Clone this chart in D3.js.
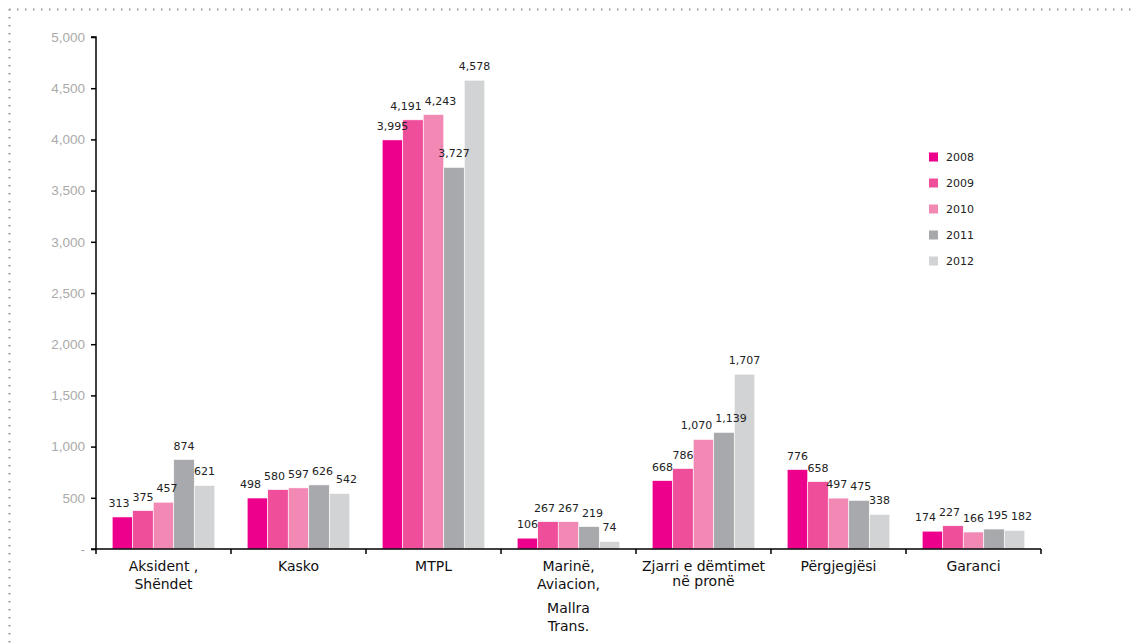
<!DOCTYPE html>
<html><head><meta charset="utf-8">
<script src="https://cdn.jsdelivr.net/npm/d3@7"></script>
<style>body{margin:0;background:#fff;}svg{display:block;}</style>
</head><body>
<svg id="chart" width="1131" height="644"></svg>
<script>
const categories = [["Aksident ,","Shëndet"],["Kasko"],["MTPL"],["Marinë,","Aviacion,","Mallra","Trans."],["Zjarri e dëmtimet","në pronë"],["Përgjegjësi"],["Garanci"]];
const years = ["2008","2009","2010","2011","2012"];
const v2008 = [313, 498, 3995, 106, 668, 776, 174];
const v2009 = [375, 580, 4191, 267, 786, 658, 227];
const v2010 = [457, 597, 4243, 267, 1070, 497, 166];
const v2011 = [874, 626, 3727, 219, 1139, 475, 195];
const v2012 = [621, 542, 4578, 74, 1707, 338, 182];
const yTicks = [0,500,1000,1500,2000,2500,3000,3500,4000,4500,5000];
const colors = ["#EC008C","#EF4E9B","#F289B5","#A7A9AC","#D1D3D4"];

(function(){
const series = [v2008,v2009,v2010,v2011,v2012];
const svg = d3.select("#chart");
const mLeft = 96, mRight = 1041, mTop = 37, mBottom = 549;

// dotted frame
svg.append("line").attr("x1",9).attr("x2",1131).attr("y1",9.5).attr("y2",9.5)
  .attr("stroke","#999").attr("stroke-width",2).attr("stroke-dasharray","1.5,6.5");
svg.append("line").attr("x1",9.5).attr("x2",9.5).attr("y1",9).attr("y2",644)
  .attr("stroke","#999").attr("stroke-width",2).attr("stroke-dasharray","1.5,6.5");

const x0 = d3.scaleBand().domain(d3.range(categories.length)).range([mLeft,mRight]).paddingInner(0).paddingOuter(0);
const x1 = d3.scaleBand().domain(years).range([0,x0.bandwidth()]).paddingOuter(0.79).paddingInner(0);
const y = d3.scaleLinear().domain([0,5000]).range([mBottom,mTop]);

const fmt = d3.format(",");
const gBars = svg.append("g");
const gLabs = svg.append("g");
categories.forEach((c,i)=>{
  const labs = [];
  years.forEach((yr,j)=>{
    const v = series[j][i];
    const bx = x0(i)+x1(yr);
    gBars.append("rect").attr("x",bx).attr("y",y(v)).attr("width",x1.bandwidth()).attr("height",mBottom-y(v))
      .attr("fill",colors[j]).attr("stroke","#fff").attr("stroke-width",0.6);
    const t = gLabs.append("text").attr("x",bx+x1.bandwidth()/2).attr("y",y(v)-10)
      .attr("text-anchor","middle").attr("font-family","DejaVu Sans").attr("font-size",11).attr("fill","#222")
      .text(fmt(v));
    labs.push({t, cx: bx+x1.bandwidth()/2, cy: y(v)-10, w: t.node().getComputedTextLength()});
  });
  // simple horizontal collision avoidance between neighbouring labels
  for (let it=0; it<30; it++) {
    for (let k=0; k<labs.length-1; k++) {
      const a = labs[k], b = labs[k+1];
      if (Math.abs(a.cy-b.cy) < 12) {
        const ov = (a.cx + a.w/2 + 3) - (b.cx - b.w/2);
        if (ov > 0) { a.cx -= ov/2; b.cx += ov/2; }
      }
    }
  }
  labs.forEach(l=>l.t.attr("x", l.cx));
});

// Y axis
const yAxis = d3.axisLeft(y).tickValues(yTicks).tickSize(5).tickFormat(d=> d===0 ? "-" : fmt(d));
const ya = svg.append("g").attr("transform",`translate(${mLeft},0)`).call(yAxis);
ya.select(".domain").attr("stroke","#000").attr("stroke-width",1.5).attr("d",`M-5,${mTop}H0V${mBottom}`);
ya.selectAll(".tick line").attr("stroke","#000").attr("stroke-width",1.5);
ya.selectAll(".tick text").attr("font-family","Liberation Sans").attr("font-size",13.5).attr("fill","#aaa").attr("x",-11);

// X axis
const xa = svg.append("g");
xa.append("line").attr("x1",mLeft-5).attr("x2",mRight).attr("y1",mBottom).attr("y2",mBottom).attr("stroke","#000").attr("stroke-width",1.5);
d3.range(categories.length+1).forEach(i=>{
  const xx = i<categories.length ? x0(i) : mRight;
  xa.append("line").attr("x1",xx).attr("x2",xx).attr("y1",mBottom).attr("y2",mBottom+5).attr("stroke","#000").attr("stroke-width",1.5);
});
const lineOffsets = [0,18,42,60];
categories.forEach((lines,i)=>{
  const t = xa.append("text").attr("text-anchor","middle").attr("font-family","DejaVu Sans").attr("font-size",14).attr("fill","#111");
  lines.forEach((ln,k)=>{
    let dy = lines.length===4 ? lineOffsets[k] : k*(i===4?15:18);
    t.append("tspan").attr("x",x0(i)+x0.bandwidth()/2).attr("y",mBottom+22+dy).text(ln);
  });
});

// Legend
const lg = svg.append("g");
years.forEach((yr,j)=>{
  const ly = 157 + j*26;
  lg.append("rect").attr("x",929).attr("y",ly-4.5).attr("width",9).attr("height",9).attr("fill",colors[j]);
  lg.append("text").attr("x",946).attr("y",ly+4).attr("font-family","DejaVu Sans").attr("font-size",11).attr("fill","#222").text(yr);
});
})();
</script>
</body></html>
